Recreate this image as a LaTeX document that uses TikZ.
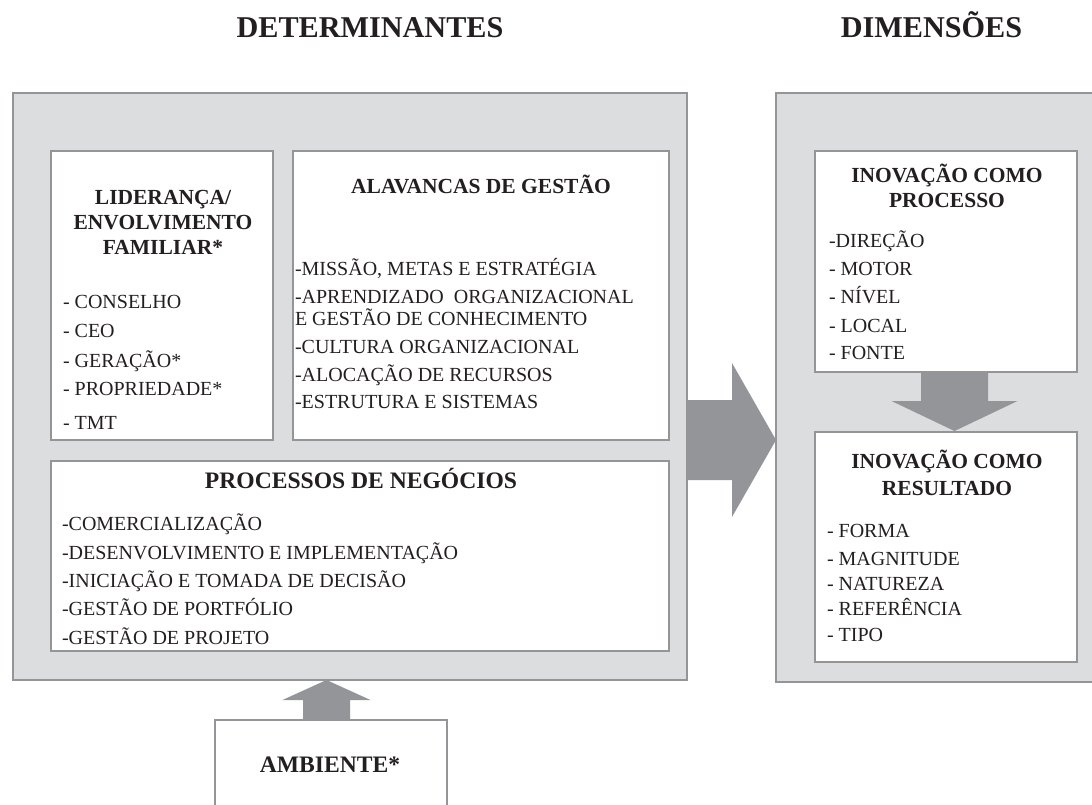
\documentclass[tikz,border=0pt]{standalone}
\usepackage{fontspec}
\setmainfont{Liberation Serif}
\usetikzlibrary{calc}
\definecolor{ink}{HTML}{231F20}
\definecolor{edgegray}{HTML}{939598}
\definecolor{panel}{HTML}{DCDDDF}
\definecolor{arrowfill}{HTML}{939598}
\tikzset{
  box/.style={draw=edgegray, line width=2.5pt, inner sep=0pt, outer sep=0pt, anchor=north west},
  outerbox/.style={box, fill=panel},
  innerbox/.style={box, fill=white},
  item/.style={anchor=base west, inner sep=0pt, outer sep=0pt, text=ink, font=\fontsize{20}{24}\selectfont},
  ttl/.style={anchor=base, inner sep=0pt, outer sep=0pt, text=ink, font=\bfseries\fontsize{21.5}{25}\selectfont},
  bigttl/.style={ttl, font=\bfseries\fontsize{30.2}{33}\selectfont},
  midttl/.style={ttl, font=\bfseries\fontsize{23.6}{27}\selectfont},
  blockarrow/.style={fill=arrowfill}
}
\begin{document}
\begin{tikzpicture}[x=1pt,y=-1pt]
\useasboundingbox (0,0) rectangle (1092,804);
\clip (0,0) rectangle (1092,804);
\fill[white] (0,0) rectangle (1092,804);

% headings
\node[bigttl] (tdet) at (370,37) {DETERMINANTES};
\node[bigttl] (tdim) at (931.5,37) {DIMENSÕES};

% outer panels
\node[outerbox, minimum width=674, minimum height=587] (outerL) at (13,93) {};
\node[outerbox, minimum width=330, minimum height=589] (outerR) at (776,93) {};

% inner boxes
\node[innerbox, minimum width=222, minimum height=289] (lid) at (51,151) {};
\node[innerbox, minimum width=376, minimum height=289] (alav) at (293,151) {};
\node[innerbox, minimum width=618, minimum height=190] (proc) at (51,461) {};
\node[innerbox, minimum width=262, minimum height=221] (inovP) at (815,151) {};
\node[innerbox, minimum width=262, minimum height=230] (inovR) at (815,432) {};
\node[innerbox, minimum width=232, minimum height=120] (amb) at (215,720) {};

% big arrow left -> right
\coordinate (bt) at (outerL.east |- alav.south);
\coordinate (bh) at (outerR.west |- alav.south);
\fill[blockarrow] ($(bt)+(0,-40)$) -- ($(bt)+(45,-40)$) -- ($(bt)+(45,-77)$) -- (bh)
  -- ($(bt)+(45,77)$) -- ($(bt)+(45,40)$) -- ($(bt)+(0,40)$) -- cycle;

% down arrow processo -> resultado
\coordinate (ds) at ($(inovP.south)+(8.5,0)$);
\coordinate (de) at ($(inovR.north)+(8.5,-1)$);
\fill[blockarrow] ($(ds)+(-33.5,0)$) -- ($(ds)+(-33.5,29)$) -- ($(ds)+(-63,29)$) -- (de)
  -- ($(ds)+(63,29)$) -- ($(ds)+(33.5,29)$) -- ($(ds)+(33.5,0)$) -- cycle;

% up arrow ambiente -> determinantes
\coordinate (ua) at ($(amb.north)+(-4.5,0)$);
\coordinate (ub) at (ua |- outerL.south);
\fill[blockarrow] ($(ua)+(-23.5,0)$) -- ($(ua)+(-23.5,-20)$) -- ($(ua)+(-44,-20)$) -- (ub)
  -- ($(ua)+(44,-20)$) -- ($(ua)+(23.5,-20)$) -- ($(ua)+(23.5,0)$) -- cycle;

% LIDERANCA box
\node[ttl] (lidt1) at (163,204) {LIDERANÇA/};
\node[ttl] (lidt2) at (163,229) {ENVOLVIMENTO};
\node[ttl] (lidt3) at (163,254) {FAMILIAR*};
\node[item] (lid1) at (63,308) {- CONSELHO};
\node[item] (lid2) at (63,337) {- CEO};
\node[item] (lid3) at (63,367) {- GERAÇÃO*};
\node[item] (lid4) at (63,395) {- PROPRIEDADE*};
\node[item] (lid5) at (63,429) {- TMT};

% ALAVANCAS box
\node[ttl] (alavt) at (481,193) {ALAVANCAS DE GESTÃO};
\node[item] (alav1) at (295,275) {-MISSÃO, METAS E ESTRATÉGIA};
\node[item] (alav2) at (295,303) {-APRENDIZADO\ \ ORGANIZACIONAL};
\node[item] (alav3) at (295,325) {E GESTÃO DE CONHECIMENTO};
\node[item] (alav4) at (295,353) {-CULTURA ORGANIZACIONAL};
\node[item] (alav5) at (295,381) {-ALOCAÇÃO DE RECURSOS};
\node[item] (alav6) at (295,408) {-ESTRUTURA E SISTEMAS};

% PROCESSOS box
\node[midttl] (proct) at (361,488) {PROCESSOS DE NEGÓCIOS};
\node[item] (proc1) at (62,530) {-COMERCIALIZAÇÃO};
\node[item] (proc2) at (62,559) {-DESENVOLVIMENTO E IMPLEMENTAÇÃO};
\node[item] (proc3) at (62,587) {-INICIAÇÃO E TOMADA DE DECISÃO};
\node[item] (proc4) at (62,615) {-GESTÃO DE PORTFÓLIO};
\node[item] (proc5) at (62,644) {-GESTÃO DE PROJETO};

% INOVACAO COMO PROCESSO
\node[ttl] (inpt1) at (947,182) {INOVAÇÃO COMO};
\node[ttl] (inpt2) at (947,207) {PROCESSO};
\node[item] (inp1) at (829,247) {-DIREÇÃO};
\node[item] (inp2) at (829,275) {- MOTOR};
\node[item] (inp3) at (829,303) {- NÍVEL};
\node[item] (inp4) at (829,332) {- LOCAL};
\node[item] (inp5) at (829,359) {- FONTE};

% INOVACAO COMO RESULTADO
\node[ttl] (inrt1) at (947,468) {INOVAÇÃO COMO};
\node[ttl] (inrt2) at (947,495) {RESULTADO};
\node[item] (inr1) at (827,537) {- FORMA};
\node[item] (inr2) at (827,565) {- MAGNITUDE};
\node[item] (inr3) at (827,590) {- NATUREZA};
\node[item] (inr4) at (827,615) {- REFERÊNCIA};
\node[item] (inr5) at (827,641) {- TIPO};

% AMBIENTE
\node[midttl] (ambt) at (330,772) {AMBIENTE*};
\end{tikzpicture}
\end{document}
